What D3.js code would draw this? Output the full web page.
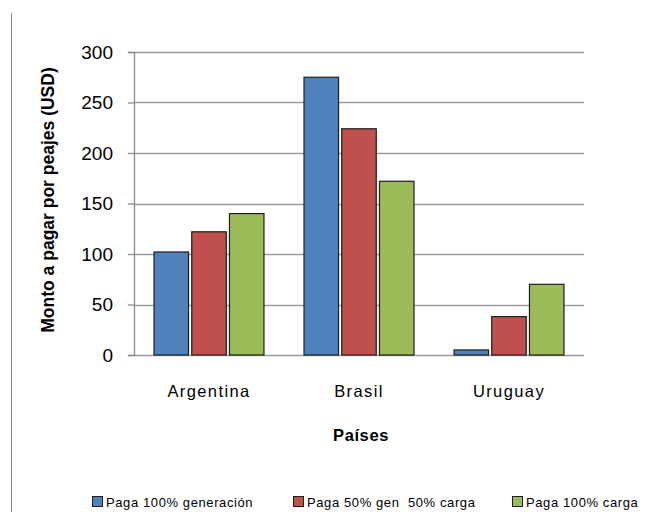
<!DOCTYPE html>
<html>
<head>
<meta charset="utf-8">
<script src="https://cdn.jsdelivr.net/npm/d3@7"></script>
<style>
  html, body { margin: 0; padding: 0; background: #fff; }
  svg { display: block; }
  text { font-family: "Liberation Sans", Arial, sans-serif; fill: #000; }
</style>
</head>
<body>
<svg id="chart" width="656" height="512"></svg>
<script>
// Toll payments per country under three allocation schemes
const countries = ["Argentina", "Brasil", "Uruguay"];
const seriesNames = ["Paga 100% generación", "Paga 50% gen  50% carga", "Paga 100% carga"];
const seriesColors = ["#4F81BD", "#C0504D", "#9BBB59"];
const gen100 = [102, 275, 5];
const gen50carga50 = [122, 224, 38];
const carga100 = [140, 172, 70];
const yTicks = [0, 50, 100, 150, 200, 250, 300];

const seriesValues = [gen100, gen50carga50, carga100];

const svg = d3.select("#chart");
const plot = { left: 134, right: 584, top: 52, bottom: 355 };

// Thin frame line on the left edge
svg.append("line")
  .attr("x1", 11.5).attr("x2", 11.5)
  .attr("y1", 13).attr("y2", 512)
  .attr("stroke", "#8c8c8c").attr("stroke-width", 1);

const x0 = d3.scaleBand()
  .domain(countries)
  .range([plot.left, plot.right])
  .paddingInner(0.267)
  .paddingOuter(0.1335);

const x1 = d3.scaleBand()
  .domain(d3.range(seriesNames.length))
  .range([0, x0.bandwidth()])
  .paddingInner(0.085);

const y = d3.scaleLinear().domain([0, 300]).range([plot.bottom, plot.top]);

// Horizontal gridlines
svg.append("g")
  .selectAll("line")
  .data(yTicks)
  .join("line")
  .attr("x1", plot.left).attr("x2", plot.right)
  .attr("y1", d => Math.round(y(d)) + 0.5)
  .attr("y2", d => Math.round(y(d)) + 0.5)
  .attr("stroke", "#9a9a9a").attr("stroke-width", 1.3);

// Y axis
const yAxis = svg.append("g")
  .attr("transform", `translate(${plot.left},0)`)
  .call(d3.axisLeft(y).tickValues(yTicks).tickSize(6).tickPadding(15));
yAxis.select(".domain").attr("stroke", "#8c8c8c").attr("stroke-width", 1.3);
yAxis.selectAll(".tick line").attr("stroke", "#8c8c8c").attr("stroke-width", 1.3);
yAxis.selectAll(".tick text")
  .attr("font-family", "'Liberation Sans', Arial, sans-serif")
  .attr("font-size", 19).attr("fill", "#000");

// Bars
const groups = svg.append("g")
  .selectAll("g")
  .data(countries)
  .join("g")
  .attr("transform", c => `translate(${x0(c)},0)`);

groups.selectAll("rect")
  .data((c, ci) => seriesValues.map((vals, si) => ({ si, v: vals[ci] })))
  .join("rect")
  .attr("x", d => x1(d.si))
  .attr("width", x1.bandwidth())
  .attr("y", d => y(d.v))
  .attr("height", d => y(0) - y(d.v))
  .attr("fill", d => seriesColors[d.si])
  .attr("stroke", "#1e1e1e")
  .attr("stroke-width", 1.2);

// Category labels
svg.append("g")
  .selectAll("text")
  .data(countries)
  .join("text")
  .attr("x", c => x0(c) + x0.bandwidth() / 2)
  .attr("y", 397)
  .attr("text-anchor", "middle")
  .attr("font-size", 16.5)
  .attr("letter-spacing", 1.4)
  .text(c => c);

// Axis titles
svg.append("text")
  .attr("x", 361).attr("y", 441)
  .attr("text-anchor", "middle")
  .attr("font-size", 16.5)
  .attr("font-weight", "bold")
  .attr("letter-spacing", 0.6)
  .text("Países");

svg.append("text")
  .attr("transform", "translate(54,200) rotate(-90)")
  .attr("text-anchor", "middle")
  .attr("font-size", 17.5)
  .attr("font-weight", "bold")
  .text("Monto a pagar por peajes (USD)");

// Legend
const legendX = [92, 293, 512];
const legend = svg.append("g")
  .selectAll("g")
  .data(seriesNames)
  .join("g")
  .attr("transform", (d, i) => `translate(${legendX[i]},0)`);

legend.append("rect")
  .attr("x", 0.5).attr("y", 496.5)
  .attr("width", 10).attr("height", 10)
  .attr("fill", (d, i) => seriesColors[i])
  .attr("stroke", "#1e1e1e").attr("stroke-width", 1);

legend.append("text")
  .attr("x", 14).attr("y", 507)
  .attr("font-size", 13)
  .attr("letter-spacing", 0.6)
  .style("white-space", "pre")
  .text(d => d);
</script>
</body>
</html>
